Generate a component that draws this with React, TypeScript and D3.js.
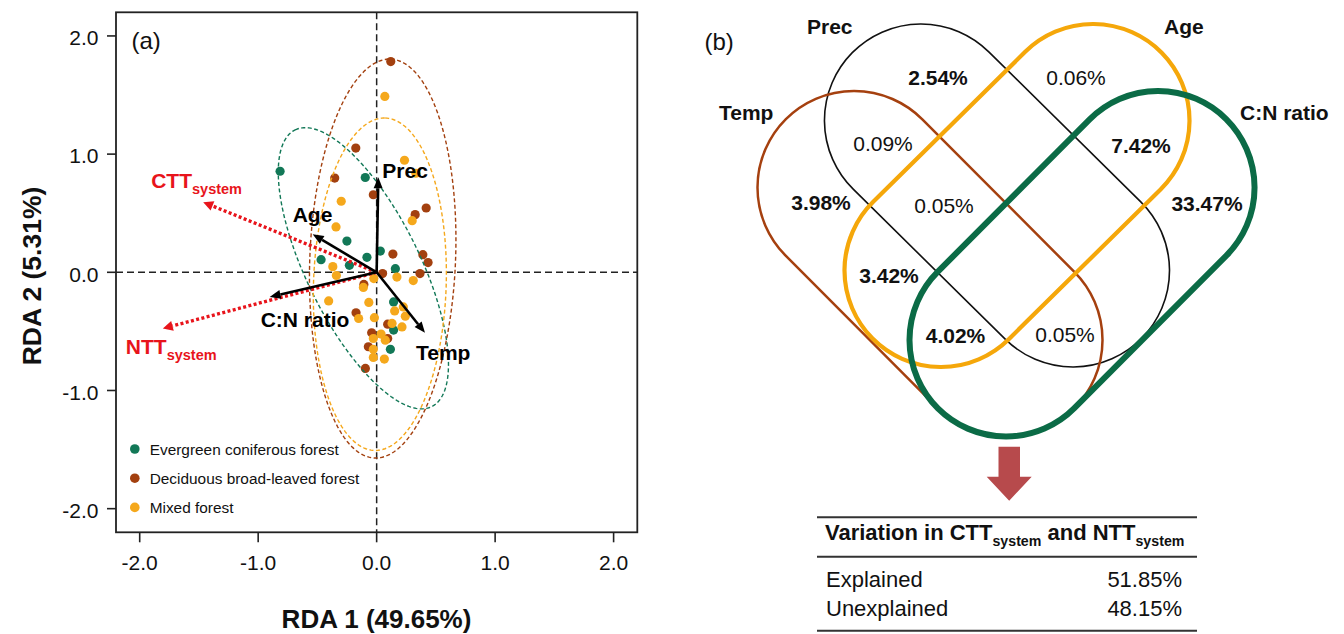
import React from "react";
import * as d3 from "d3";

// ---------- DATA ----------
const evergreen: [number, number][] = [
  [-0.815, 0.855], [-0.096, 0.802], [-0.251, 0.264], [0.031, 0.18], [-0.469, 0.107],
  [-0.082, 0.127], [-0.23, 0.059], [0.158, 0.031], [0.143, -0.251], [0.143, -0.489],
  [0.116, -0.652],
];
const deciduous: [number, number][] = [
  [0.119, 1.783], [-0.176, 1.051], [-0.354, 0.797], [-0.028, 0.656], [0.418, 0.544],
  [0.325, 0.488], [0.137, 0.154], [0.39, 0.149], [0.434, 0.082], [0.366, -0.011],
  [0.05, -0.011], [-0.108, -0.103], [-0.174, -0.343], [0.093, -0.439], [-0.042, -0.512],
  [0.093, -0.56], [-0.07, -0.63], [-0.095, -0.813],
];
const mixed: [number, number][] = [
  [0.069, 1.488], [0.235, 0.948], [0.331, 0.838], [-0.299, 0.601], [0.3, 0.437],
  [-0.343, 0.384], [-0.37, 0.048], [0.171, -0.04], [-0.34, -0.027], [0.309, -0.07],
  [-0.024, -0.053], [-0.112, -0.128], [-0.405, -0.242], [-0.066, -0.255], [0.152, -0.327],
  [0.225, -0.293], [-0.152, -0.391], [-0.019, -0.384], [0.242, -0.371], [0.13, -0.433],
  [0.214, -0.462], [0.037, -0.523], [0.073, -0.574], [-0.028, -0.56], [-0.028, -0.652],
  [-0.028, -0.72], [0.065, -0.734],
];
const groupNames = ["Evergreen coniferous forest", "Deciduous broad-leaved forest", "Mixed forest"];
const groupColors = ["#127857", "#a3400f", "#f5a81c"];
// confidence ellipses: centre x, centre y, semi-major, semi-minor, tilt (deg, + = top leans left)
const ellipseEvergreen = [-0.112, 0.034, 1.305, 0.478, 26.2];
const ellipseDeciduous = [0.051, 0.116, 1.689, 0.615, -2.3];
const ellipseMixed = [0.027, -0.101, 1.407, 0.56, -1.84];

const envNames = ["Prec", "Age", "C:N ratio", "Temp"];
const envX = [0.014, -0.54, -0.903, 0.408];
const envY = [0.804, 0.321, -0.208, -0.512];
const respNames = ["CTT", "NTT"];
const respX = [-1.464, -1.805];
const respY = [0.593, -0.475];
const axisTicks = [-2, -1, 0, 1, 2];

const vennSets = ["Prec", "Temp", "Age", "C:N ratio"];
const vennValues = ["2.54%", "0.06%", "0.09%", "7.42%", "3.98%", "0.05%", "33.47%", "3.42%", "4.02%", "0.05%"];
const vennBold = [true, false, false, true, true, false, true, true, true, false];
const tableRows = ["Explained", "Unexplained"];
const tableValues = ["51.85%", "48.15%"];

// ---------- LAYOUT ----------
const FONT = "'Liberation Sans', Arial, Helvetica, sans-serif";
const x = d3.scaleLinear().domain([-2.2, 2.2]).range([116, 637.3]);
const y = d3.scaleLinear().domain([-2.2, 2.2]).range([532.3, 12.3]);

const envLabelOffset: [number, number][] = [[4, 1], [-20, -12], [-9, 30], [-9, 27]];
const respLabelOffset: [number, number][] = [[-52, -14], [-37, 26]];

// venn stadium geometry: [x1,y1,x2,y2]
const vennGeom: Record<string, number[]> = {
  Prec: [921, 120.5, 1073, 270.5],
  Temp: [854, 187.5, 1006, 340],
  Age: [1093, 120.5, 941, 270.5],
  "C:N ratio": [1158, 187.5, 1006, 340],
};
const vennStyle: Record<string, [string, number]> = {
  Prec: ["#111111", 1.6],
  Temp: ["#a5400f", 2.5],
  Age: ["#f5a70a", 4.2],
  "C:N ratio": ["#0b6b46", 6],
};
const vennSetLabelPos: [number, number][] = [[807, 34], [719, 120], [1164, 34], [1240, 120]];
const vennValuePos: [number, number][] = [
  [938, 85], [1076, 85], [883, 151], [1141, 153], [821, 210], [944, 213], [1207, 211],
  [889, 283], [955.5, 343], [1065, 342],
];
const R = 96.5;

function stadium(g: number[]) {
  const [x1, y1, x2, y2] = g;
  const L = Math.hypot(x2 - x1, y2 - y1);
  const dx = (x2 - x1) / L, dy = (y2 - y1) / L;
  const nx = -dy, ny = dx;
  const an = Math.atan2(ny, nx);
  const p = d3.path();
  p.moveTo(x1 + nx * R, y1 + ny * R);
  p.lineTo(x2 + nx * R, y2 + ny * R);
  p.arc(x2, y2, R, an, an - Math.PI, true);
  p.lineTo(x1 - nx * R, y1 - ny * R);
  p.arc(x1, y1, R, an - Math.PI, an - 2 * Math.PI, true);
  p.closePath();
  return p.toString();
}

function ellipsePath(e: number[]) {
  const [cx, cy, a, b, tilt] = e;
  const phi = (tilt * Math.PI) / 180;
  const ux = -Math.sin(phi), uy = Math.cos(phi);
  const vx = Math.cos(phi), vy = Math.sin(phi);
  const pts: [number, number][] = d3.range(0, 2 * Math.PI, Math.PI / 120).map((t) => {
    const px = cx + a * Math.cos(t) * ux + b * Math.sin(t) * vx;
    const py = cy + a * Math.cos(t) * uy + b * Math.sin(t) * vy;
    return [x(px), y(py)];
  });
  return d3.line().curve(d3.curveLinearClosed)(pts) as string;
}

function arrow(x0: number, y0: number, x1: number, y1: number, L: number, W: number) {
  const len = Math.hypot(x1 - x0, y1 - y0);
  const dx = (x1 - x0) / len, dy = (y1 - y0) / len;
  const bx = x1 - dx * L, by = y1 - dy * L;
  const nx = -dy, ny = dx;
  return {
    bx, by,
    head: `M${x1},${y1}L${bx + nx * W},${by + ny * W}L${bx - nx * W},${by - ny * W}Z`,
  };
}

export default function App() {
  const groups = [evergreen, deciduous, mixed];
  const ellipses = [ellipseEvergreen, ellipseDeciduous, ellipseMixed];
  const ox = x(0), oy = y(0);
  return (
    <svg width={1344} height={634} style={{ position: "absolute", left: 0, top: 0, background: "#fff" }} fontFamily={FONT}>
      <rect width={1344} height={634} fill="#fff" />
      {/* ---- panel (a) ---- */}
      <line x1={x(0)} x2={x(0)} y1={y(2.2)} y2={y(-2.2)} stroke="#222" strokeWidth={1.5} strokeDasharray="7 4" />
      <line x1={x(-2.2)} x2={x(2.2)} y1={y(0)} y2={y(0)} stroke="#222" strokeWidth={1.5} strokeDasharray="7 4" />
      {groups.map((g, gi) =>
        g.map((d, i) => <circle key={gi + "-" + i} cx={x(d[0])} cy={y(d[1])} r={4.6} fill={groupColors[gi]} />)
      )}
      {ellipses.map((e, i) => (
        <path key={"e" + i} d={ellipsePath(e)} fill="none" stroke={groupColors[i]} strokeWidth={1.4} strokeDasharray="4 2.5" />
      ))}
      {respNames.map((n, i) => {
        const a = arrow(ox, oy, x(respX[i]), y(respY[i]), 10, 5);
        return (
          <g key={"r" + i}>
            <line x1={ox} y1={oy} x2={a.bx} y2={a.by} stroke="#e8141b" strokeWidth={3.4} strokeDasharray="3 2.4" />
            <path d={a.head} fill="#e8141b" />
          </g>
        );
      })}
      {envNames.map((n, i) => {
        const a = arrow(ox, oy, x(envX[i]), y(envY[i]), 11, 4.5);
        return (
          <g key={"v" + i}>
            <line x1={ox} y1={oy} x2={a.bx} y2={a.by} stroke="#000" strokeWidth={2.6} />
            <path d={a.head} fill="#000" />
          </g>
        );
      })}
      {envNames.map((n, i) => (
        <text key={"vl" + i} x={x(envX[i]) + envLabelOffset[i][0]} y={y(envY[i]) + envLabelOffset[i][1]} fontSize={21} fontWeight="bold" fill="#000">
          {n}
        </text>
      ))}
      {respNames.map((n, i) => (
        <text key={"rl" + i} x={x(respX[i]) + respLabelOffset[i][0]} y={y(respY[i]) + respLabelOffset[i][1]} fontSize={21} fontWeight="bold" fill="#e8141b">
          <tspan>{n}</tspan>
          <tspan fontSize={14.5} dy={6}>system</tspan>
        </text>
      ))}
      {/* frame */}
      <rect x={x(-2.2)} y={y(2.2)} width={x(2.2) - x(-2.2)} height={y(-2.2) - y(2.2)} fill="none" stroke="#222" strokeWidth={1.8} />
      {axisTicks.map((t) => (
        <g key={"xt" + t}>
          <line x1={x(t)} x2={x(t)} y1={y(-2.2)} y2={y(-2.2) + 10} stroke="#222" strokeWidth={1.6} />
          <text x={x(t)} y={569.5} textAnchor="middle" fontSize={21} fill="#111">{t.toFixed(1)}</text>
        </g>
      ))}
      {axisTicks.map((t) => (
        <g key={"yt" + t}>
          <line x1={x(-2.2) - 9} x2={x(-2.2)} y1={y(t)} y2={y(t)} stroke="#222" strokeWidth={1.6} />
          <text x={98.5} y={y(t) + 9.3} textAnchor="end" fontSize={21} fill="#111">{t.toFixed(1)}</text>
        </g>
      ))}
      <text x={376.5} y={628} textAnchor="middle" fontSize={26} fontWeight="bold" fill="#111">RDA 1 (49.65%)</text>
      <text transform="translate(40.5,276) rotate(-90)" textAnchor="middle" fontSize={26.5} fontWeight="bold" fill="#111">RDA 2 (5.31%)</text>
      <text x={131.5} y={49} fontSize={24} fill="#111">(a)</text>
      {groupNames.map((n, i) => (
        <g key={"lg" + i}>
          <circle cx={134.8} cy={449 + i * 29.2} r={4.8} fill={groupColors[i]} />
          <text x={149.7} y={449 + i * 29.2 + 5.5} fontSize={15.4} fill="#111">{n}</text>
        </g>
      ))}

      {/* ---- panel (b) ---- */}
      <text x={704.5} y={50} fontSize={24} fill="#111">(b)</text>
      {["Prec", "Temp", "Age", "C:N ratio"].map((k) => (
        <path key={"s" + k} d={stadium(vennGeom[k])} fill="none" stroke={vennStyle[k][0]} strokeWidth={vennStyle[k][1]} />
      ))}
      {vennSets.map((n, i) => (
        <text key={"vs" + i} x={vennSetLabelPos[i][0]} y={vennSetLabelPos[i][1]} fontSize={21} fontWeight="bold" fill="#111">{n}</text>
      ))}
      {vennValues.map((v, i) => (
        <text key={"vv" + i} x={vennValuePos[i][0]} y={vennValuePos[i][1]} textAnchor="middle" fontSize={21} fontWeight={vennBold[i] ? "bold" : "normal"} fill="#111">{v}</text>
      ))}
      <path d="M998.5,446.7L1020,446.7L1020,476.7L1031.7,476.7L1009.2,500.7L986.7,476.7L998.5,476.7Z" fill="#b74a4c" />
      <line x1={817} x2={1197} y1={517.3} y2={517.3} stroke="#333" strokeWidth={2} />
      <line x1={817} x2={1197} y1={556.7} y2={556.7} stroke="#333" strokeWidth={2} />
      <line x1={817} x2={1197} y1={630.7} y2={630.7} stroke="#333" strokeWidth={2} />
      <text x={825} y={540} fontSize={22} fontWeight="bold" fill="#111">
        <tspan>Variation in CTT</tspan>
        <tspan fontSize={14.2} dy={6}>system</tspan>
        <tspan fontSize={22} dy={-6}> and NTT</tspan>
        <tspan fontSize={14.2} dy={6}>system</tspan>
      </text>
      {tableRows.map((r, i) => (
        <g key={"tr" + i}>
          <text x={826} y={586.7 + i * 29} fontSize={22} fill="#111">{r}</text>
          <text x={1182} y={586.7 + i * 29} textAnchor="end" fontSize={22} fill="#111">{tableValues[i]}</text>
        </g>
      ))}
    </svg>
  );
}
